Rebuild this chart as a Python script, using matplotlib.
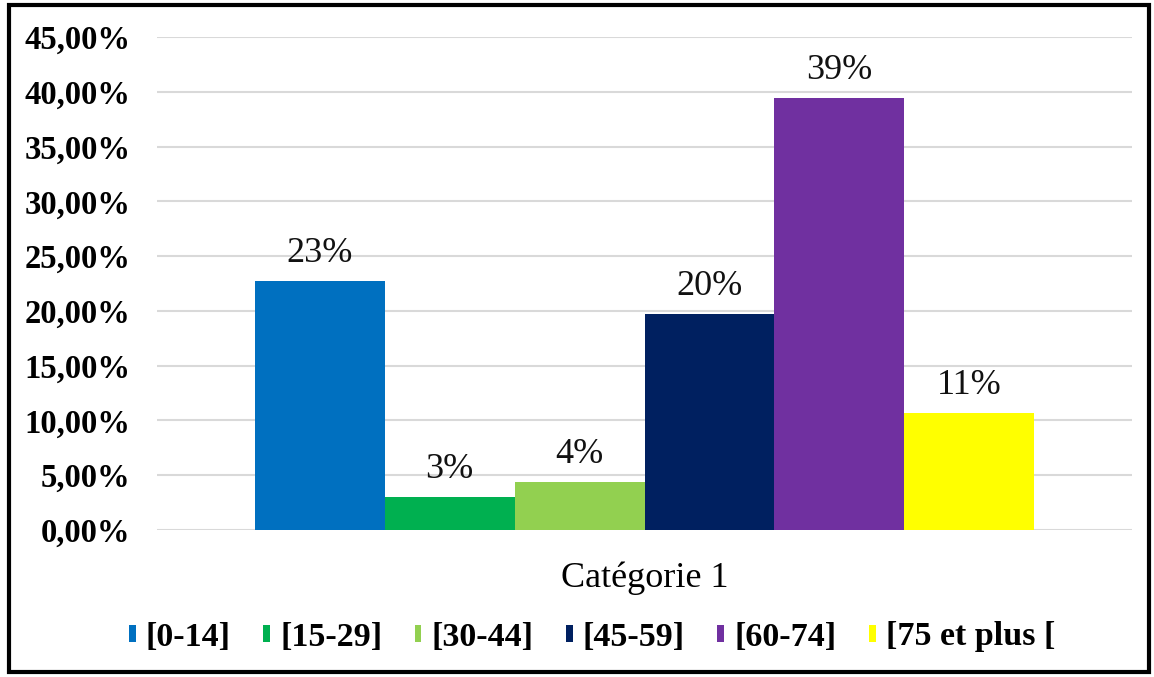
import matplotlib.pyplot as plt
from matplotlib.patches import Rectangle

# age groups and their share
groups = ['[0-14]', '[15-29]', '[30-44]', '[45-59]', '[60-74]', '[75 et plus [']
shares = [22.7, 3.0, 4.4, 19.7, 39.4, 10.7]
labels = ['23%', '3%', '4%', '20%', '39%', '11%']
colors = ['#0070C0', '#00B050', '#92D050', '#002060', '#7030A0', '#FFFF00']
yticks = [0, 5, 10, 15, 20, 25, 30, 35, 40, 45]
ytick_labels = ['0,00%', '5,00%', '10,00%', '15,00%', '20,00%', '25,00%',
                '30,00%', '35,00%', '40,00%', '45,00%']
category = 'Catégorie 1'

plt.rcParams['font.family'] = ['Liberation Serif', 'DejaVu Serif']

fig = plt.figure(figsize=(11.54, 6.77), dpi=100)
ax = fig.add_axes([157 / 1154, 147 / 677, 975 / 1154, 493 / 677])

for i, (g, v, c) in enumerate(zip(groups, shares, colors)):
    ax.bar(i, v, width=1.0, color=c, label=g, zorder=3)

for i, (v, lab) in enumerate(zip(shares, labels)):
    ax.annotate(lab, (i, v), xytext=(0, 8), textcoords='offset points',
                ha='center', va='bottom', fontsize=26, color='#111111')

ax.set_xlim(-1.254, 6.254)
ax.set_ylim(0, 45)
ax.set_yticks(yticks)
ax.set_yticklabels(ytick_labels, fontsize=23.5, fontweight='bold')
ax.set_xticks([2.5])
ax.set_xticklabels([category], fontsize=26)
ax.tick_params(axis='y', length=0, pad=19)
ax.tick_params(axis='x', length=0, pad=23)
ax.yaxis.grid(True, color='#D9D9D9', lw=1.5, zorder=0)
for s in ax.spines.values():
    s.set_visible(False)

fig.legend(loc='center', bbox_to_anchor=(592 / 1154, 40 / 677), ncol=6,
           frameon=False, prop={'size': 24.5, 'weight': 'bold'},
           handlelength=0.2, handleheight=0.42, handletextpad=0.3,
           columnspacing=0.95)

# chart frame
fig.patches.append(Rectangle((9 / 1154, 5 / 677), 1140 / 1154, 667 / 677,
                             transform=fig.transFigure, fill=False,
                             ec='black', lw=3))

fig.savefig('out.png', dpi=100)
